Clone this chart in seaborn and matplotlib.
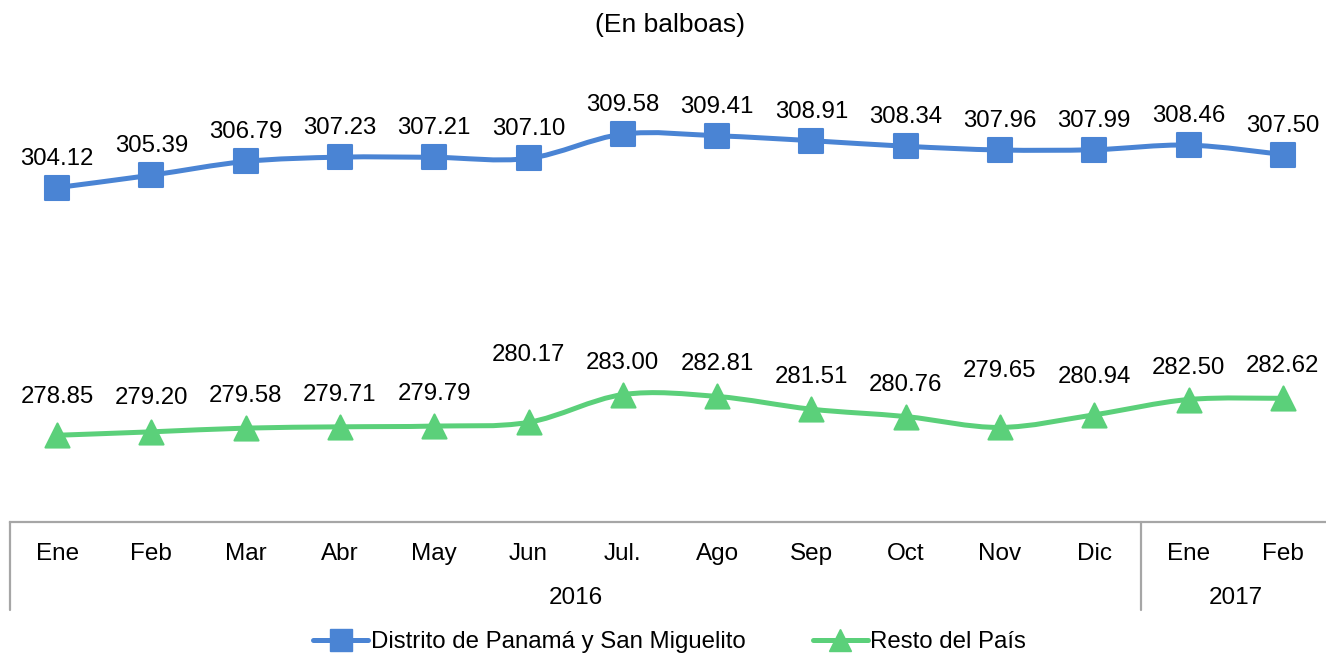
import numpy as np
import pandas as pd
import seaborn as sns
from matplotlib import pyplot as plt
from matplotlib.path import Path
from matplotlib.patches import PathPatch
from matplotlib.lines import Line2D
from matplotlib.transforms import blended_transform_factory

# values
months = ['Ene', 'Feb', 'Mar', 'Abr', 'May', 'Jun', 'Jul.', 'Ago', 'Sep', 'Oct', 'Nov', 'Dic', 'Ene', 'Feb']
years = ['2016', '2017']
panama = [304.12, 305.39, 306.79, 307.23, 307.21, 307.10, 309.58, 309.41, 308.91, 308.34, 307.96, 307.99, 308.46, 307.50]
resto = [278.85, 279.20, 279.58, 279.71, 279.79, 280.17, 283.00, 282.81, 281.51, 280.76, 279.65, 280.94, 282.50, 282.62]
series_names = ['Distrito de Panamá y San Miguelito', 'Resto del País']

blue = '#4A84D4'
green = '#5BD07A'
grey = '#A6A6A6'

sns.set_style('white')
plt.rcParams['font.family'] = ['Liberation Sans', 'DejaVu Sans']
plt.rcParams['text.color'] = 'black'
plt.rcParams['xtick.color'] = 'black'

x = np.arange(len(months))


#Excel style smoothed line: cubic bezier through the points
def smooth_path(xs, ys):
    pts = np.column_stack([xs, ys]).astype(float)
    ext = np.vstack([pts[0], pts, pts[-1]])
    verts = [pts[0]]
    codes = [Path.MOVETO]
    for i in range(len(pts) - 1):
        p0, p1, p2, p3 = ext[i], ext[i + 1], ext[i + 2], ext[i + 3]
        verts += [p1 + (p2 - p0) / 6, p2 - (p3 - p1) / 6, p2]
        codes += [Path.CURVE4] * 3
    return Path(verts, codes)


fig = plt.figure(figsize=(13.26, 6.59), dpi=100)
ax = fig.add_axes([10 / 1326, 137 / 659, 1320 / 1326, 441 / 659])
ax.set_xlim(-0.5, 13.5)
ax.set_ylim(270, 315)

for vals, col in [(panama, blue), (resto, green)]:
    ax.add_patch(PathPatch(smooth_path(x, vals), facecolor='none', edgecolor=col,
                           lw=3.6, capstyle='round', zorder=2))

df = pd.DataFrame({'x': x, 'panama': panama, 'resto': resto})
sns.scatterplot(data=df, x='x', y='panama', marker='s', s=300, color=blue,
                edgecolor=blue, linewidth=1.5, ax=ax, zorder=3)
sns.scatterplot(data=df, x='x', y='resto', marker='^', s=300, color=green,
                edgecolor=green, linewidth=1.5, ax=ax, zorder=3)

# data labels (a few were nudged upward in the original)
green_extra = {0: 6, 1: 2, 5: 35, 10: 24, 11: 6}
for i, v in enumerate(panama):
    ax.annotate(f'{v:.2f}', (i, v), xytext=(0, 29 * 0.72), textcoords='offset points',
                ha='center', va='center', fontsize=17.3)
for i, v in enumerate(resto):
    off = (32 + green_extra.get(i, 0)) * 0.72
    ax.annotate(f'{v:.2f}', (i, v), xytext=(0, off), textcoords='offset points',
                ha='center', va='center', fontsize=17.3)

ax.set_xlabel('')
ax.set_ylabel('')
ax.set_yticks([])
ax.set_xticks(x, months)
ax.tick_params(axis='x', length=0, pad=15, labelsize=17.5)
for s in ['top', 'left', 'right']:
    ax.spines[s].set_visible(False)
ax.spines['bottom'].set_color(grey)
ax.spines['bottom'].set_linewidth(1.6)

# category box below the axis
tr = blended_transform_factory(ax.transData, ax.transAxes)
for xv in [-0.5, 11.5]:
    ax.plot([xv, xv], [0, -0.2], transform=tr, color=grey, lw=1.6, clip_on=False)
ax.text(5.5, -0.173, years[0], transform=tr, ha='center', va='center', fontsize=17.5)
ax.text(12.5, -0.173, years[1], transform=tr, ha='center', va='center', fontsize=17.5)

fig.text(0.505, (659 - 25) / 659, '(En balboas)', ha='center', va='center', fontsize=19)

handles = [Line2D([], [], color=blue, lw=3.6, marker='s', markersize=16),
           Line2D([], [], color=green, lw=3.6, marker='^', markersize=16)]
fig.legend(handles, series_names, loc='center', bbox_to_anchor=(0.505, 17 / 659), ncol=2,
           frameon=False, fontsize=17.3, handlelength=2.3, handletextpad=0.1, columnspacing=2.8)

fig.savefig('out.png', dpi=100)
